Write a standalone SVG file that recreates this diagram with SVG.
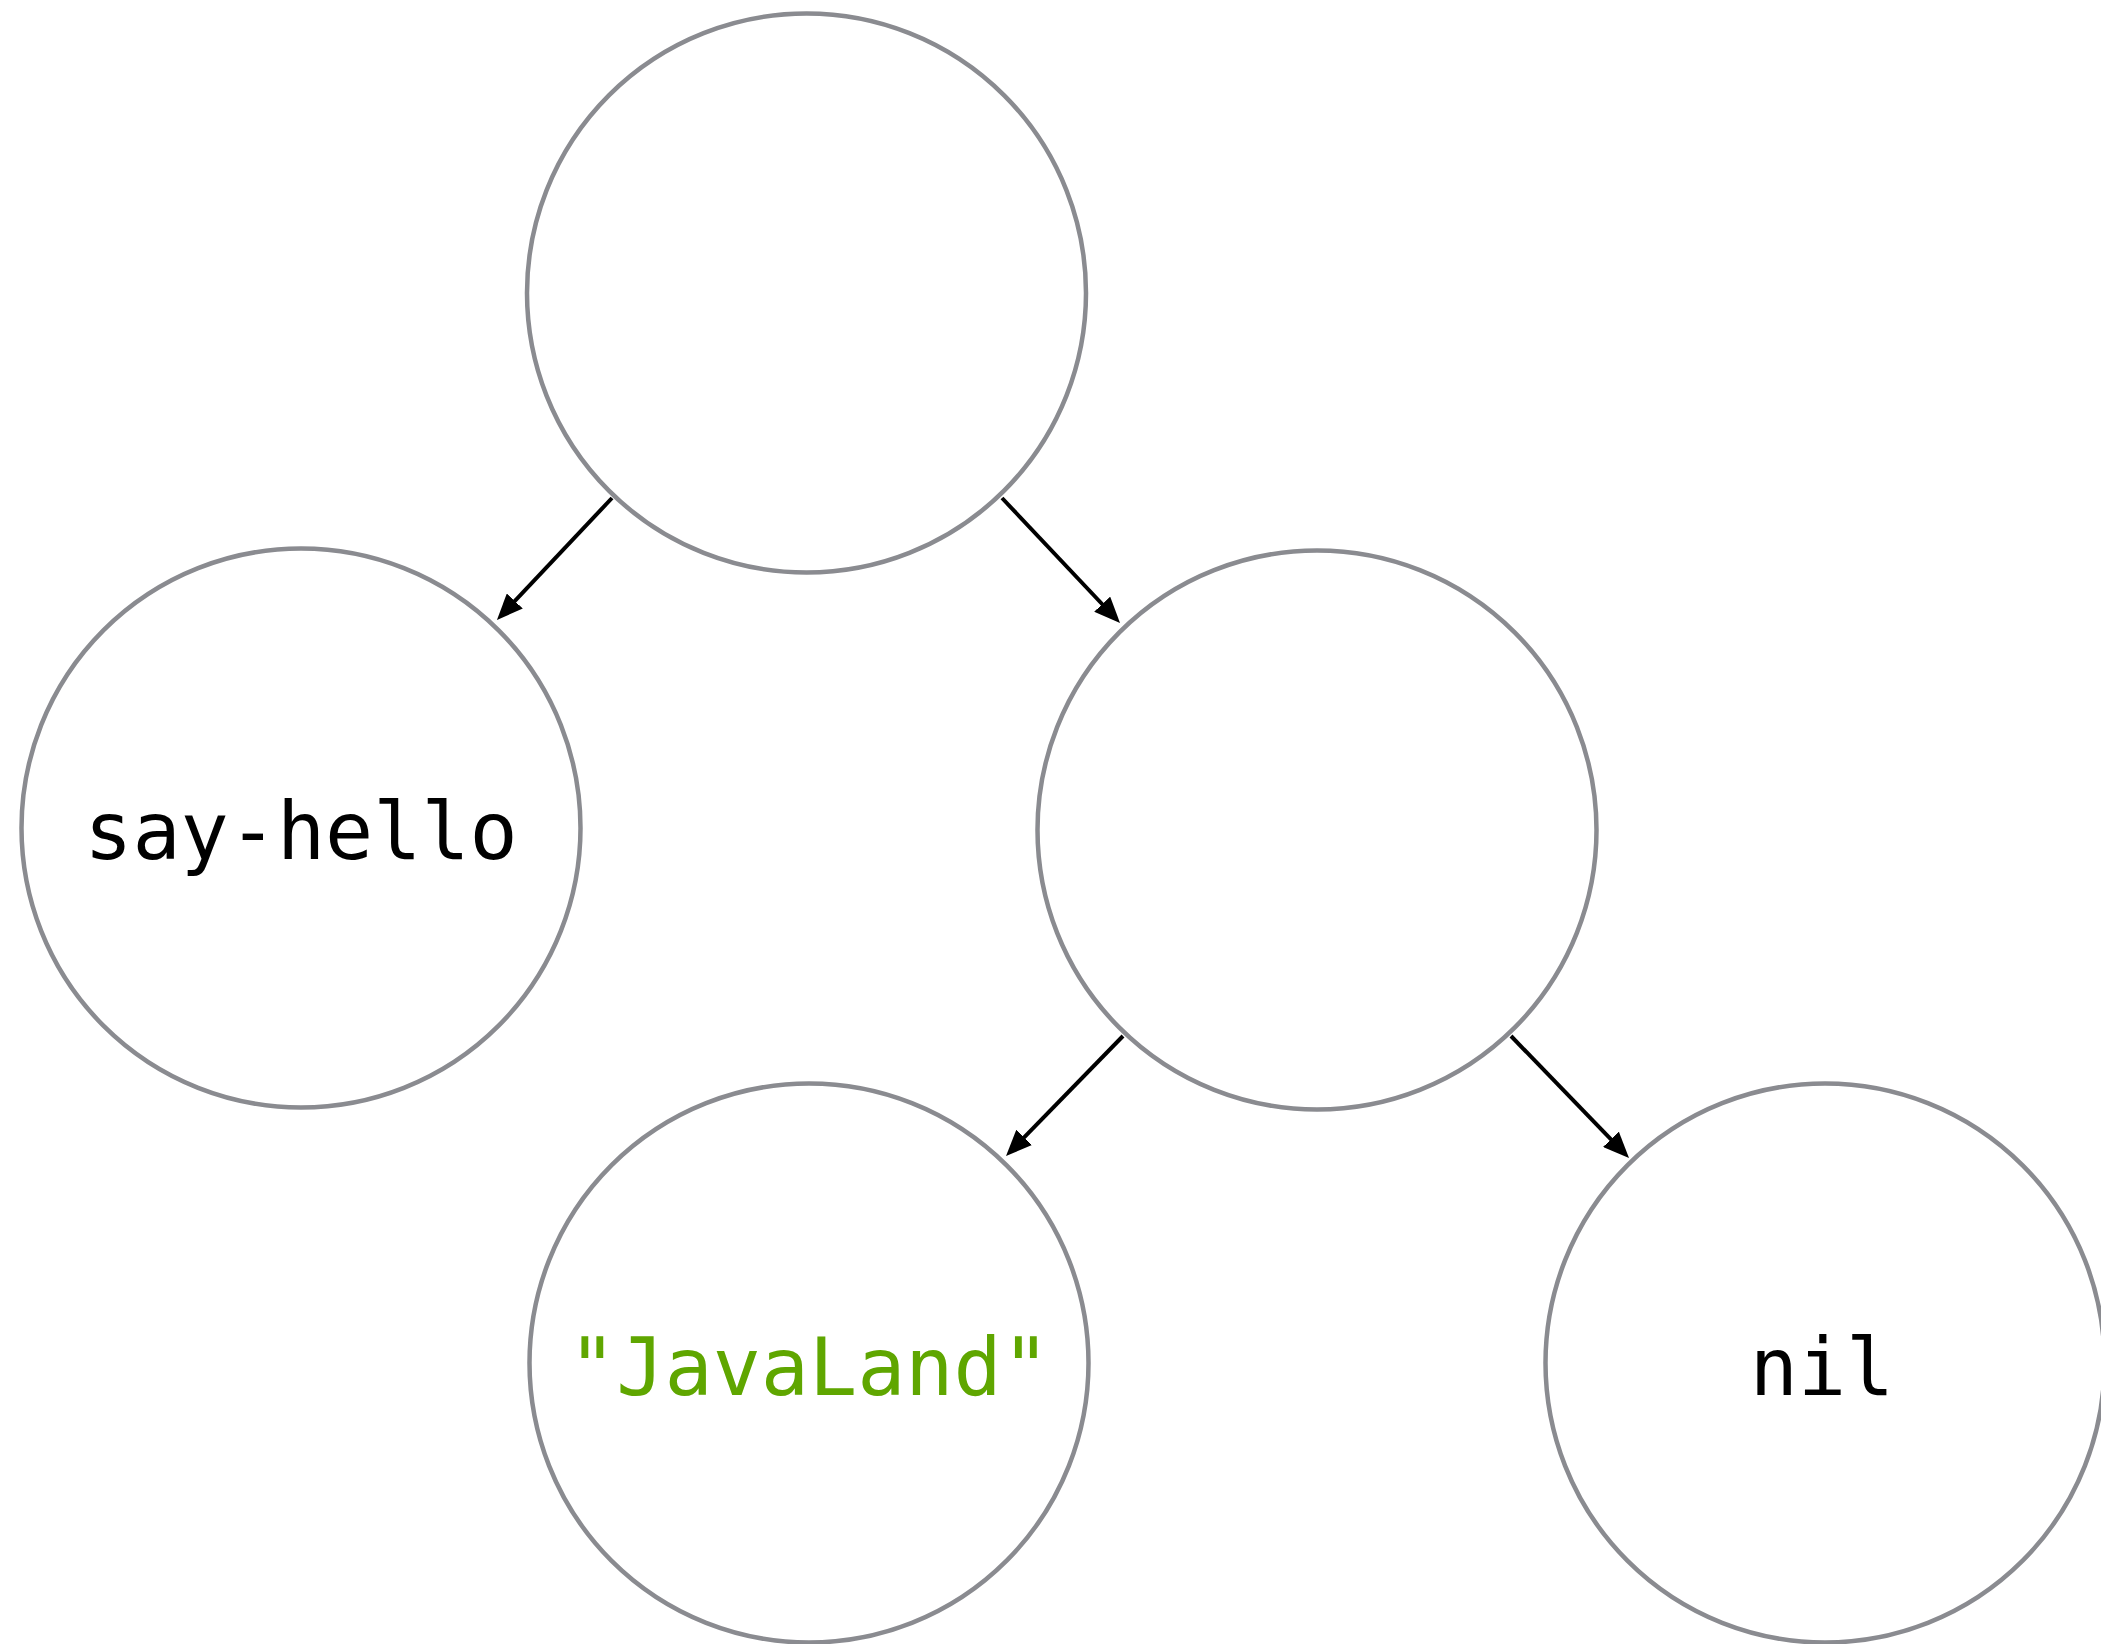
<svg xmlns="http://www.w3.org/2000/svg" width="2101" height="1644" viewBox="0 0 2101 1644">
  <style>
    .node { fill: #ffffff; stroke: #8a8b90; stroke-width: 4.5; }
    .label { font-family: "DejaVu Sans Mono", "Liberation Mono", monospace; font-size: 80px; text-anchor: middle; fill: #000000; }
    .str { fill: #5fa600; }
    .edge { stroke: #000000; stroke-width: 4; fill: none; marker-end: url(#arrow); }
  </style>
  <defs>
    <marker id="arrow" markerUnits="userSpaceOnUse" viewBox="0 0 26 22" markerWidth="26" markerHeight="22" refX="6" refY="11" orient="auto">
      <path d="M0,0 L26,11 L0,22 Z" fill="#000000"/>
    </marker>
  </defs>
  <rect width="2101" height="1644" fill="#ffffff"/>

  <g id="edges">
    <path class="edge" d="M612,498 L510.7,605.4"/>
    <path class="edge" d="M1002,498 L1106.3,608.5"/>
    <path class="edge" d="M1123,1036 L1020,1141.7"/>
    <path class="edge" d="M1511,1036 L1615.1,1143.6"/>
  </g>

  <g id="node-root">
    <circle class="node" cx="806.5" cy="293" r="279.5"/>
  </g>
  <g id="node-say-hello">
    <circle class="node" cx="301" cy="828" r="279.5"/>
    <text class="label" x="301" y="859">say-hello</text>
  </g>
  <g id="node-rest">
    <circle class="node" cx="1317" cy="830" r="279.5"/>
  </g>
  <g id="node-javaland">
    <circle class="node" cx="809" cy="1363" r="279.5"/>
    <text class="label str" x="809" y="1395">"JavaLand"</text>
  </g>
  <g id="node-nil">
    <circle class="node" cx="1825" cy="1363" r="279.5"/>
    <text class="label" x="1822" y="1395">nil</text>
  </g>
</svg>
